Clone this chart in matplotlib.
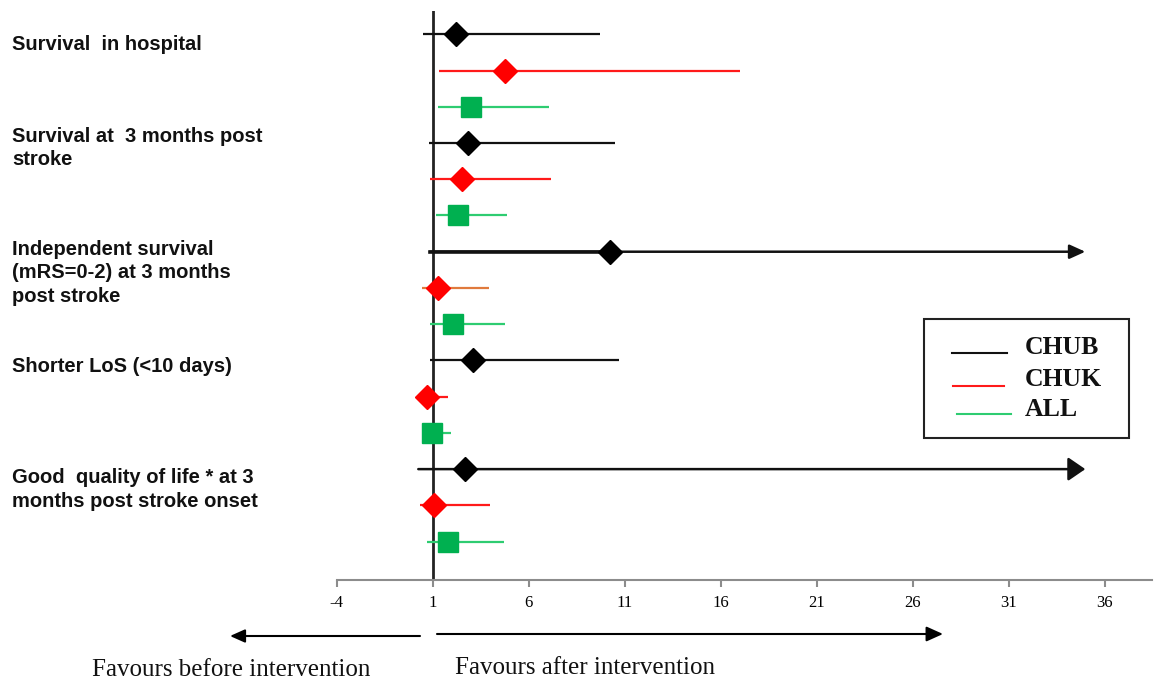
import matplotlib
matplotlib.use("Agg")
import matplotlib.pyplot as plt
from matplotlib.patches import Rectangle
from matplotlib.lines import Line2D

# ---------------- data ----------------
groups = ["Survival  in hospital",
          "Survival at  3 months post\nstroke",
          "Independent survival\n(mRS=0-2) at 3 months\npost stroke",
          "Shorter LoS (<10 days)",
          "Good  quality of life * at 3\nmonths post stroke onset"]
series = ["CHUB", "CHUK", "ALL"]

chub_est = [2.22, 2.83, 10.22, 3.12, 2.70]
chub_lo = [0.52, 0.80, 0.87, 0.87, 0.26]
chub_hi = [9.70, 10.53, 35.0, 10.70, 35.0]
chub_open = [False, False, True, False, True]   # upper limit beyond scale -> arrow

chuk_est = [4.78, 2.52, 1.27, 0.70, 1.09]
chuk_lo = [1.35, 0.87, 0.44, 0.40, 0.35]
chuk_hi = [17.01, 7.16, 3.95, 1.79, 3.97]
chuk_open = [False] * 5

all_est = [3.00, 2.32, 2.06, 0.96, 1.79]
all_lo = [1.27, 1.17, 0.87, 0.60, 0.70]
all_hi = [7.07, 4.89, 4.78, 1.96, 4.70]
all_open = [False] * 5

xticks = [-4, 1, 6, 11, 16, 21, 26, 31, 36]
favour_left = "Favours before intervention"
favour_right = "Favours after intervention"

# ---------------- styles ----------------
marker_colors = ["#000000", "#ff0000", "#00b050"]
line_colors = ["#111111", "#ff1a1a", "#2ecc71"]
markers = ["D", "D", "s"]
msizes = [12.3, 12.3, 14.5]
special_line_color = {(2, 1): "#e07a3c"}
arrow_heads = {2: (9.5, 4.3), 4: (10.5, 7.2)}

W, H = 1160, 684
fig = plt.figure(figsize=(W / 100, H / 100), dpi=100)

def fx(px):
    return px / W

def fy(py):
    return 1 - py / H

ax_l, ax_r, ax_t, ax_b = 336.5, 1152, 11, 580
ax = fig.add_axes([fx(ax_l), fy(ax_b), fx(ax_r) - fx(ax_l), (ax_b - ax_t) / H])
ax.set_xlim(-4, 1 + (ax_r - 432.5) / 19.2)
ax.set_ylim(15.06, -0.643)

for s in ["top", "right", "left"]:
    ax.spines[s].set_visible(False)
ax.spines["bottom"].set_color("#8c8c8c")
ax.spines["bottom"].set_linewidth(1.5)
ax.set_yticks([])
ax.set_xticks(xticks)
ax.set_xticklabels([str(t) for t in xticks], family="Liberation Serif", fontsize=12)
ax.tick_params(axis="x", direction="out", length=5, width=1.5, color="#8c8c8c", pad=6)

ax.axvline(1, color="#222222", lw=2, zorder=1)

ests = [chub_est, chuk_est, all_est]
los = [chub_lo, chuk_lo, all_lo]
his = [chub_hi, chuk_hi, all_hi]
opens = [chub_open, chuk_open, all_open]

for g in range(len(groups)):
    for k in range(len(series)):
        y = g * 3 + k
        lc = special_line_color.get((g, k), line_colors[k])
        if opens[k][g]:
            hl, hw = arrow_heads[g]
            ax.annotate("", xy=(his[k][g], y), xytext=(los[k][g], y),
                        arrowprops=dict(arrowstyle=f"-|>,head_length={hl},head_width={hw}",
                                        mutation_scale=1, color=lc, lw=1.8,
                                        shrinkA=0, shrinkB=0), zorder=2)
            if g == 2:
                # heavier stroke between lower limit and estimate, as in the source
                ax.plot([los[k][g], ests[k][g]], [y, y], color=lc, lw=2.6, zorder=2)
        else:
            ax.plot([los[k][g], his[k][g]], [y, y], color=lc, lw=1.6, zorder=2,
                    solid_capstyle="butt")
        ax.plot([ests[k][g]], [y], marker=markers[k], ms=msizes[k],
                color=marker_colors[k], mec=marker_colors[k], zorder=3, linestyle="none")

# group labels
label_y = [44, 148, 273, 367, 489.5]
for g, lab in enumerate(groups):
    fig.text(fx(12), fy(label_y[g]), lab, family="Liberation Sans", weight="bold",
             fontsize=14.5, ha="left", va="center", linespacing=1.32, color="#111111")

# legend box
fig.add_artist(Rectangle((fx(924), fy(438)), fx(1129) - fx(924), (438 - 319) / H,
                         transform=fig.transFigure, fill=False, edgecolor="#222222", lw=1.5))
leg_lines = [(952, 1007, 353), (953, 1004, 385.5), (957, 1011, 414)]
leg_text_y = [348, 380, 409]
for k, name in enumerate(series):
    x0, x1, yy = leg_lines[k]
    fig.add_artist(Line2D([fx(x0), fx(x1)], [fy(yy), fy(yy)], transform=fig.transFigure,
                          color=line_colors[k], lw=1.5))
    fig.text(fx(1025), fy(leg_text_y[k]), name, family="Liberation Serif", weight="bold",
             fontsize=18.5, ha="left", va="center", color="#111111")

# favour arrows
ax.annotate("", xy=(fx(230), fy(636)), xytext=(fx(420), fy(636)), xycoords="figure fraction",
            textcoords="figure fraction",
            arrowprops=dict(arrowstyle="-|>,head_length=9,head_width=4", mutation_scale=1,
                            color="black", lw=1.5, shrinkA=0, shrinkB=0), annotation_clip=False)
ax.annotate("", xy=(fx(943), fy(634)), xytext=(fx(437), fy(634)), xycoords="figure fraction",
            textcoords="figure fraction",
            arrowprops=dict(arrowstyle="-|>,head_length=10,head_width=4.5", mutation_scale=1,
                            color="black", lw=1.5, shrinkA=0, shrinkB=0), annotation_clip=False)
fig.text(fx(92), fy(670), favour_left, family="Liberation Serif", fontsize=18,
         ha="left", va="center", color="#111111")
fig.text(fx(455), fy(668), favour_right, family="Liberation Serif", fontsize=18,
         ha="left", va="center", color="#111111")

fig.savefig("out.png", dpi=100)
